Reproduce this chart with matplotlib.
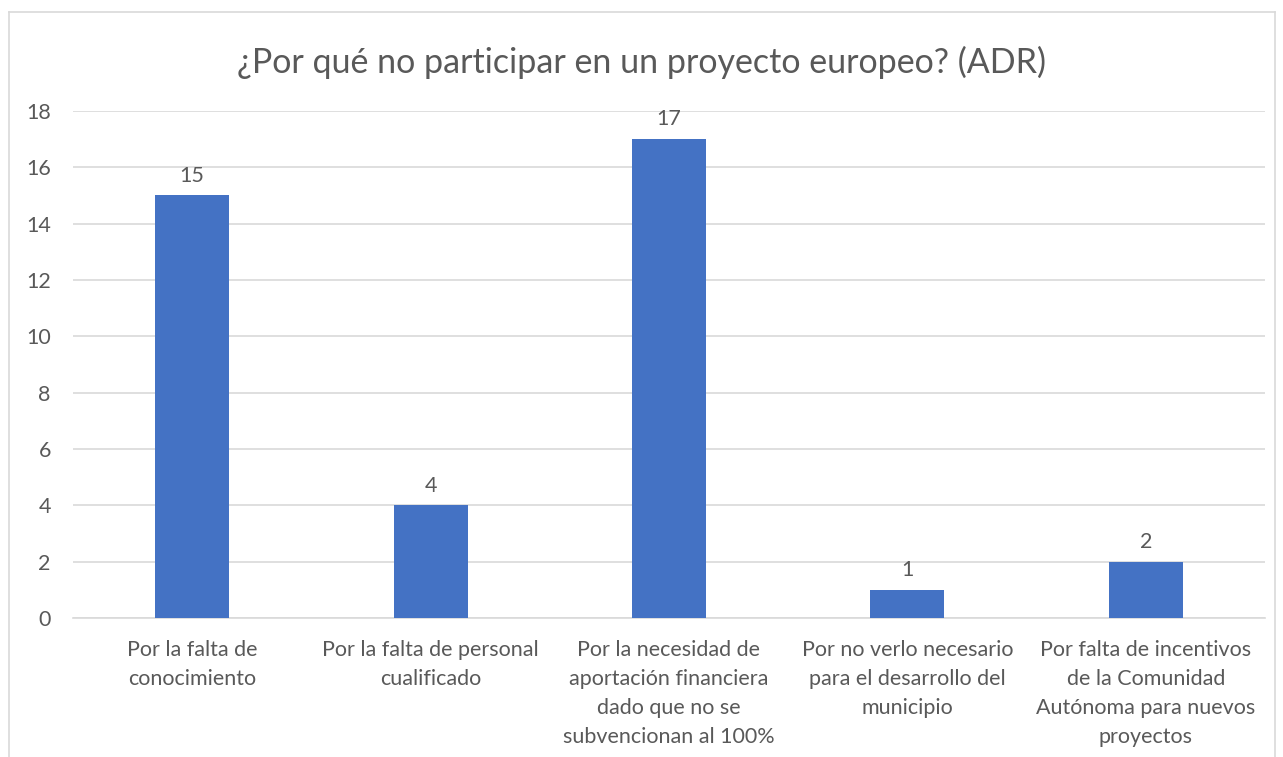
import matplotlib
matplotlib.use('Agg')
import matplotlib.pyplot as plt
from matplotlib.lines import Line2D

# ── Data ────────────────────────────────────────────────────
categories = [
    "Por la falta de\nconocimiento",
    "Por la falta de personal\ncualificado",
    "Por la necesidad de\naportación financiera\ndado que no se\nsubvencionan al 100%",
    "Por no verlo necesario\npara el desarrollo del\nmunicipio",
    "Por falta de incentivos\nde la Comunidad\nAutónoma para nuevos\nproyectos",
]
values = [15, 4, 17, 1, 2]
y_ticks = [0, 2, 4, 6, 8, 10, 12, 14, 16, 18]

title = "¿Por qué no participar en un proyecto europeo? (ADR)"

BAR_COLOR  = "#4472C4"
TEXT_COLOR = "#595959"
GRID_COLOR = "#D9D9D9"
FS = 15.5

plt.rcParams['font.family'] = ['Lato', 'DejaVu Sans']

fig = plt.figure(figsize=(12.83, 7.57), dpi=100)
ax = fig.add_axes([0.0569, 0.1836, 0.929, 0.6698])

x = list(range(len(categories)))
ax.bar(x, values, width=0.31, color=BAR_COLOR, zorder=3)

for xi, v in zip(x, values):
    ax.annotate(str(v), (xi, v), xytext=(0, 7), textcoords='offset points',
                ha='center', va='bottom', fontsize=FS, color=TEXT_COLOR)

ax.set_xlim(-0.5, len(categories) - 0.5)
ax.set_ylim(0, 18)
ax.set_yticks(y_ticks)
ax.set_yticklabels([str(t) for t in y_ticks])
ax.set_xticks(x)
ax.set_xticklabels(categories, linespacing=1.55)

ax.tick_params(axis='y', length=0, pad=16, labelsize=FS, labelcolor=TEXT_COLOR)
ax.tick_params(axis='x', length=0, pad=16, labelsize=FS, labelcolor=TEXT_COLOR)

ax.grid(axis='y', color=GRID_COLOR, linewidth=1.2, zorder=0)
for side in ['top', 'right', 'left']:
    ax.spines[side].set_visible(False)
ax.spines['bottom'].set_color(GRID_COLOR)
ax.spines['bottom'].set_linewidth(1.2)

fig.text(0.5, 0.918, title, ha='center', va='center',
         fontsize=24.5, color=TEXT_COLOR)

# chart frame (cut at the bottom like the reference)
frame_kw = dict(color=GRID_COLOR, linewidth=1.2, transform=fig.transFigure)
fig.add_artist(Line2D([9/1283, 9/1283], [0, 1 - 12/757], **frame_kw))
fig.add_artist(Line2D([9/1283, 1275/1283], [1 - 12/757, 1 - 12/757], **frame_kw))
fig.add_artist(Line2D([1275/1283, 1275/1283], [0, 1 - 12/757], **frame_kw))

fig.savefig("out.png", dpi=100, facecolor='white')
